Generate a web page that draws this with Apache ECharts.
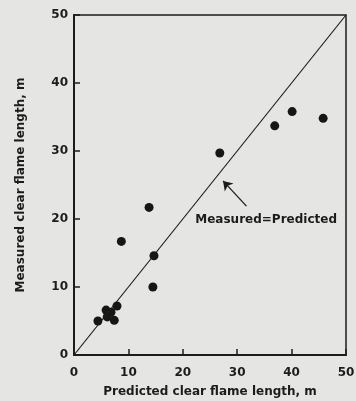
<!DOCTYPE html>
<html>
<head>
<meta charset="utf-8">
<script src="https://cdn.jsdelivr.net/npm/echarts@6/dist/echarts.min.js"></script>
<style>
  html, body { margin: 0; padding: 0; background: #e5e5e3; }
  #chart { width: 356px; height: 401px; }
</style>
</head>
<body>
<div id="chart"></div>
<script>
// measured vs predicted clear flame length (m)
const predicted = [4.4, 5.9, 6.1, 6.8, 7.4, 7.9, 8.7, 13.8, 14.5, 14.7, 26.8, 36.9, 40.1, 45.8];
const measured  = [5.0, 6.6, 5.6, 6.3, 5.1, 7.2, 16.7, 21.7, 10.0, 14.6, 29.7, 33.7, 35.8, 34.8];
const parityLine = [[0, 0], [50, 50]];
const arrowTail = [31.7, 21.9];
const arrowTip = [27.4, 25.6];
const noteAt = [22.2, 19.9];
const noteText = "Measured=Predicted";

const ink = "#1c1c1c";
const font = "DejaVu Sans, sans-serif";

const chart = echarts.init(document.getElementById("chart"));

chart.setOption({
  animation: false,
  backgroundColor: "#e5e5e3",
  grid: {
    left: 74, right: 10, top: 15, bottom: 46,
    containLabel: false,
    outerBoundsMode: "none",
    show: true,
    borderColor: ink,
    borderWidth: 1.5,
    backgroundColor: "transparent"
  },
  xAxis: {
    type: "value",
    min: 0,
    max: 50,
    interval: 10,
    name: "Predicted clear flame length, m",
    nameLocation: "middle",
    nameGap: 31,
    nameTextStyle: { color: ink, fontFamily: font, fontWeight: "bold", fontSize: 12 },
    axisLine: { lineStyle: { color: ink, width: 2 } },
    axisTick: { inside: true, length: 6, lineStyle: { color: ink, width: 1.5 } },
    axisLabel: { color: ink, fontFamily: font, fontWeight: "bold", fontSize: 12, margin: 12 },
    splitLine: { show: false }
  },
  yAxis: {
    type: "value",
    min: 0,
    max: 50,
    interval: 10,
    name: "Measured clear flame length, m",
    nameLocation: "middle",
    nameGap: 47,
    nameTextStyle: { color: ink, fontFamily: font, fontWeight: "bold", fontSize: 12 },
    axisLine: { lineStyle: { color: ink, width: 2 } },
    axisTick: { inside: true, length: 6, lineStyle: { color: ink, width: 1.5 } },
    axisLabel: { color: ink, fontFamily: font, fontWeight: "bold", fontSize: 12, margin: 6 },
    splitLine: { show: false }
  },
  series: [
    {
      name: "parity",
      type: "line",
      data: parityLine,
      showSymbol: false,
      silent: true,
      lineStyle: { color: ink, width: 1.2 },
      markLine: {
        silent: true,
        symbol: ["none", "arrow"],
        symbolSize: 9,
        lineStyle: { color: ink, width: 1.3, type: "solid" },
        label: { show: false },
        data: [[{ coord: arrowTail }, { coord: arrowTip }]]
      },
      markPoint: {
        silent: true,
        symbol: "circle",
        symbolSize: 1,
        itemStyle: { color: "rgba(0,0,0,0)" },
        label: {
          show: true,
          position: "right",
          distance: 0,
          formatter: noteText,
          color: ink,
          fontFamily: font,
          fontWeight: "bold",
          fontSize: 12
        },
        data: [{ coord: noteAt }]
      }
    },
    {
      name: "data",
      type: "scatter",
      data: predicted.map((x, i) => [x, measured[i]]),
      symbol: "circle",
      symbolSize: 9,
      itemStyle: { color: "#161616", opacity: 1 }
    }
  ]
});
</script>
</body>
</html>
